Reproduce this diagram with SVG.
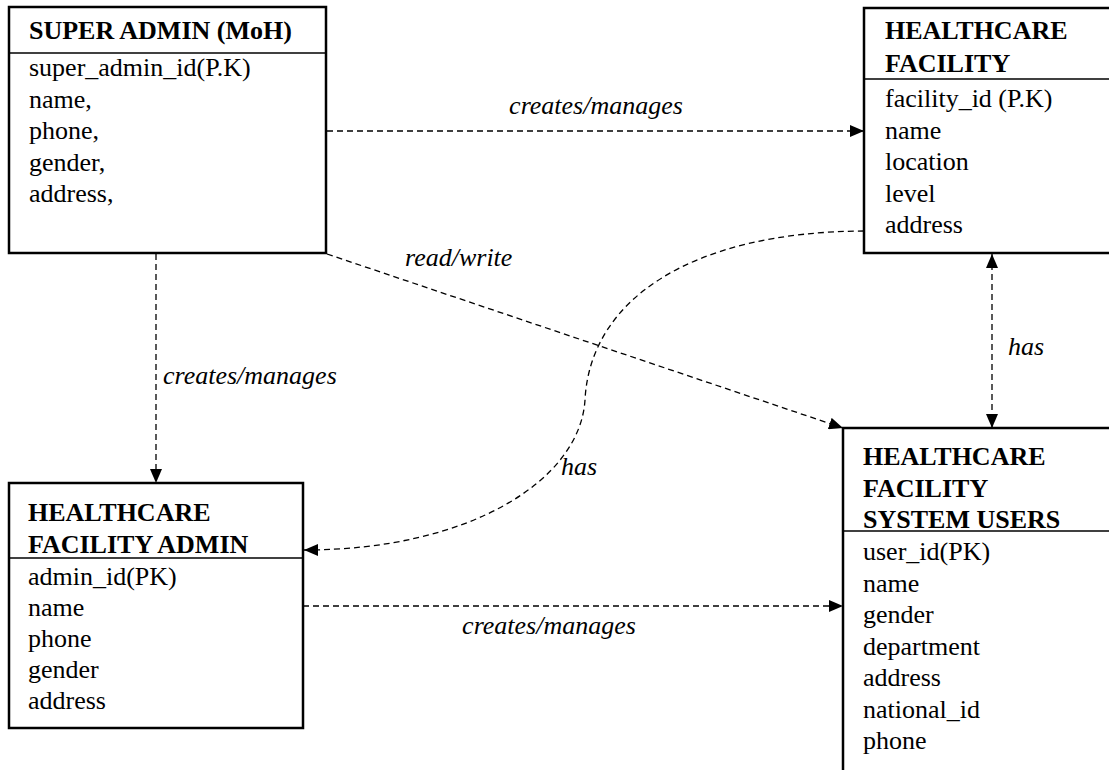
<svg xmlns="http://www.w3.org/2000/svg" width="1109" height="770" viewBox="0 0 1109 770">
<style>
text{font-family:"Liberation Serif","Times New Roman",serif;font-size:26px;fill:#000}
.t{font-weight:bold}
.l{font-style:italic}
.box{fill:#fff;stroke:#000;stroke-width:2.5}
.hd{stroke:#000;stroke-width:1.3}
.c{fill:none;stroke:#000;stroke-width:1.3;stroke-dasharray:6 4}
</style>
<defs>
<marker id="ah" markerUnits="userSpaceOnUse" markerWidth="14" markerHeight="12" refX="14" refY="6" orient="auto-start-reverse" viewBox="0 0 14 12">
<path d="M0,0 L14,6 L0,12 z" fill="#000" stroke="none"/>
</marker>
</defs>
<rect width="1109" height="770" fill="#fff"/>
<g id="connectors">
<line class="c" x1="327" y1="131" x2="864" y2="131" marker-end="url(#ah)"/>
<line class="c" x1="156" y1="254" x2="156" y2="483" marker-end="url(#ah)"/>
<line class="c" x1="327" y1="254" x2="843" y2="428" marker-end="url(#ah)"/>
<path class="c" d="M864,231 C690,232 590,300 585,400 C580,480 470,550 304,550" marker-end="url(#ah)"/>
<line class="c" x1="992" y1="254" x2="992" y2="428" marker-start="url(#ah)" marker-end="url(#ah)"/>
<line class="c" x1="303" y1="606" x2="843" y2="606" marker-end="url(#ah)"/>
<text class="l" x="596" y="114" text-anchor="middle">creates/manages</text>
<text class="l" x="163" y="384">creates/manages</text>
<text class="l" x="405" y="266">read/write</text>
<text class="l" x="561" y="475">has</text>
<text class="l" x="1008" y="355">has</text>
<text class="l" x="549" y="634" text-anchor="middle">creates/manages</text>
</g>
<g id="super_admin">
<rect class="box" x="9" y="7" width="317" height="246"/>
<line class="hd" x1="9" y1="53" x2="326" y2="53"/>
<text class="t" x="29" y="39">SUPER ADMIN (MoH)</text>
<text x="29" y="76">super_admin_id(P.K)</text>
<text x="29" y="107.5">name,</text>
<text x="29" y="139">phone,</text>
<text x="29" y="170.5">gender,</text>
<text x="29" y="202">address,</text>
</g>
<g id="healthcare_facility">
<rect class="box" x="864" y="8" width="260" height="245"/>
<line class="hd" x1="864" y1="79" x2="1124" y2="79"/>
<text class="t" x="885" y="39">HEALTHCARE</text>
<text class="t" x="885" y="72">FACILITY</text>
<text x="885" y="107">facility_id (P.K)</text>
<text x="885" y="138.5">name</text>
<text x="885" y="170">location</text>
<text x="885" y="201.5">level</text>
<text x="885" y="233">address</text>
</g>
<g id="facility_admin">
<rect class="box" x="9" y="483" width="294" height="245"/>
<line class="hd" x1="9" y1="558" x2="303" y2="558"/>
<text class="t" x="28" y="521">HEALTHCARE</text>
<text class="t" x="28" y="553">FACILITY ADMIN</text>
<text x="28" y="585">admin_id(PK)</text>
<text x="28" y="616">name</text>
<text x="28" y="647">phone</text>
<text x="28" y="678">gender</text>
<text x="28" y="709">address</text>
</g>
<g id="system_users">
<rect class="box" x="843" y="428" width="280" height="380"/>
<line class="hd" x1="843" y1="531" x2="1123" y2="531"/>
<text class="t" x="863" y="465">HEALTHCARE</text>
<text class="t" x="863" y="497">FACILITY</text>
<text class="t" x="863" y="528">SYSTEM USERS</text>
<text x="863" y="560">user_id(PK)</text>
<text x="863" y="591.5">name</text>
<text x="863" y="623">gender</text>
<text x="863" y="654.5">department</text>
<text x="863" y="686">address</text>
<text x="863" y="717.5">national_id</text>
<text x="863" y="749">phone</text>
</g>
</svg>
